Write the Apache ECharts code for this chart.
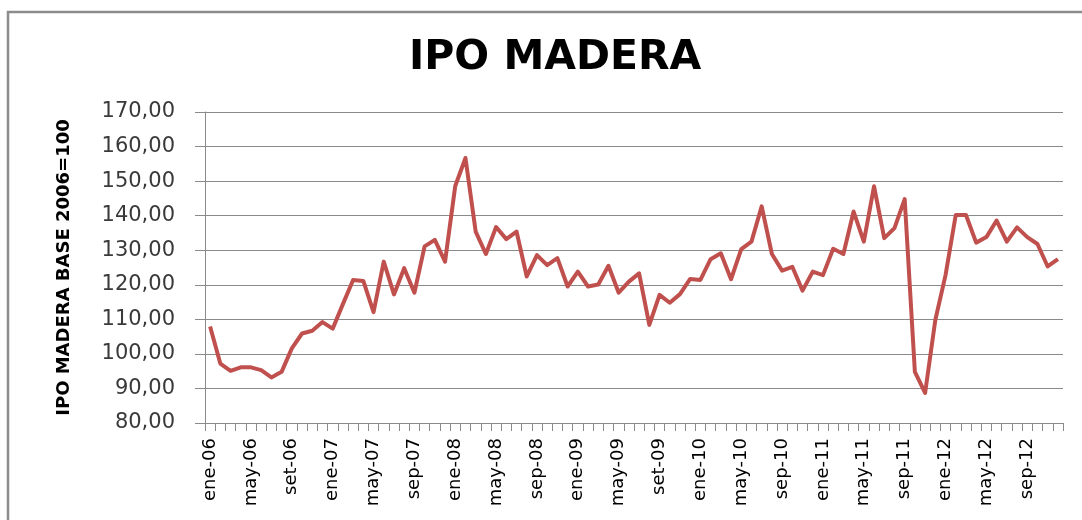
<!DOCTYPE html>
<html>
<head>
<meta charset="utf-8">
<script src="https://cdn.jsdelivr.net/npm/echarts@6/dist/echarts.min.js"></script>
<style>
html,body{margin:0;padding:0;background:#fff;}
#c{width:1082px;height:520px;}
</style>
</head>
<body>
<div id="c"></div>
<script>
const categories = [
  'ene-06','feb-06','mar-06','abr-06','may-06','jun-06','jul-06','ago-06','set-06','oct-06','nov-06','dic-06',
  'ene-07','feb-07','mar-07','abr-07','may-07','jun-07','jul-07','ago-07','sep-07','oct-07','nov-07','dic-07',
  'ene-08','feb-08','mar-08','abr-08','may-08','jun-08','jul-08','ago-08','sep-08','oct-08','nov-08','dic-08',
  'ene-09','feb-09','mar-09','abr-09','may-09','jun-09','jul-09','ago-09','set-09','oct-09','nov-09','dic-09',
  'ene-10','feb-10','mar-10','abr-10','may-10','jun-10','jul-10','ago-10','sep-10','oct-10','nov-10','dic-10',
  'ene-11','feb-11','mar-11','abr-11','may-11','jun-11','jul-11','ago-11','sep-11','oct-11','nov-11','dic-11',
  'ene-12','feb-12','mar-12','abr-12','may-12','jun-12','jul-12','ago-12','sep-12','oct-12','nov-12','dic-12'
];
const ipoMadera = [
  107.9, 97.2, 95.1, 96.1, 96.1, 95.3, 93.2, 94.8, 101.6, 105.9, 106.7, 109.2,
  107.3, 114.4, 121.4, 121.1, 112.1, 126.7, 117.2, 124.8, 117.7, 131.1, 133.0, 126.7,
  148.6, 156.7, 135.4, 128.9, 136.7, 133.2, 135.4, 122.4, 128.6, 125.7, 127.7, 119.5,
  123.8, 119.5, 120.1, 125.5, 117.7, 120.9, 123.3, 108.4, 117.1, 114.8, 117.3, 121.7,
  121.4, 127.4, 129.1, 121.6, 130.3, 132.5, 142.7, 128.9, 124.1, 125.2, 118.3, 123.8,
  122.8, 130.4, 128.9, 141.2, 132.5, 148.5, 133.5, 136.4, 144.8, 94.8, 88.7, 109.8,
  122.8, 140.2, 140.2, 132.2, 133.8, 138.6, 132.5, 136.6, 133.8, 131.8, 125.3, 127.4
];
const chartTitle = 'IPO MADERA';
const yAxisName = 'IPO MADERA BASE 2006=100';

const chart = echarts.init(document.getElementById('c'), null, {renderer: 'canvas'});
chart.setOption({
  animation: false,
  backgroundColor: '#ffffff',
  title: {
    text: chartTitle,
    left: 404,
    top: 33,
    textStyle: {fontFamily: 'DejaVu Sans', fontWeight: 'bold', fontSize: 41, color: '#000000'}
  },
  graphic: [{
    type: 'rect',
    shape: {x: 8, y: 12, width: 1200, height: 700},
    style: {fill: 'none', stroke: '#8c8c8c', lineWidth: 2.5},
    silent: true
  }],
  grid: {left: 205, right: 19, top: 112, bottom: 97},
  xAxis: {
    type: 'category',
    data: categories,
    boundaryGap: true,
    axisLine: {lineStyle: {color: '#8a8a8a', width: 1}},
    axisTick: {show: true, interval: 0, length: 8, lineStyle: {color: '#8a8a8a'}},
    axisLabel: {
      interval: 3,
      rotate: 90,
      margin: 15,
      fontFamily: 'DejaVu Sans',
      fontSize: 18,
      color: '#000000'
    },
    splitLine: {show: false}
  },
  yAxis: {
    type: 'value',
    min: 80,
    max: 170,
    interval: 10,
    name: yAxisName,
    nameLocation: 'middle',
    nameRotate: 90,
    nameGap: 132,
    nameTextStyle: {fontFamily: 'DejaVu Sans', fontWeight: 'bold', fontSize: 18, color: '#000000'},
    axisLine: {show: true, lineStyle: {color: '#8a8a8a', width: 1}},
    axisTick: {show: true, length: 10, lineStyle: {color: '#8a8a8a'}},
    axisLabel: {
      margin: 30,
      fontFamily: 'DejaVu Sans',
      fontSize: 21,
      color: '#3a3a3a',
      formatter: v => v.toFixed(2).replace('.', ',')
    },
    splitLine: {show: true, lineStyle: {color: '#8a8a8a', width: 1}}
  },
  series: [{
    type: 'line',
    data: ipoMadera,
    symbol: 'none',
    smooth: false,
    lineStyle: {color: '#C0504D', width: 4, join: 'round'},
    itemStyle: {color: '#C0504D'}
  }]
});
</script>
</body>
</html>
